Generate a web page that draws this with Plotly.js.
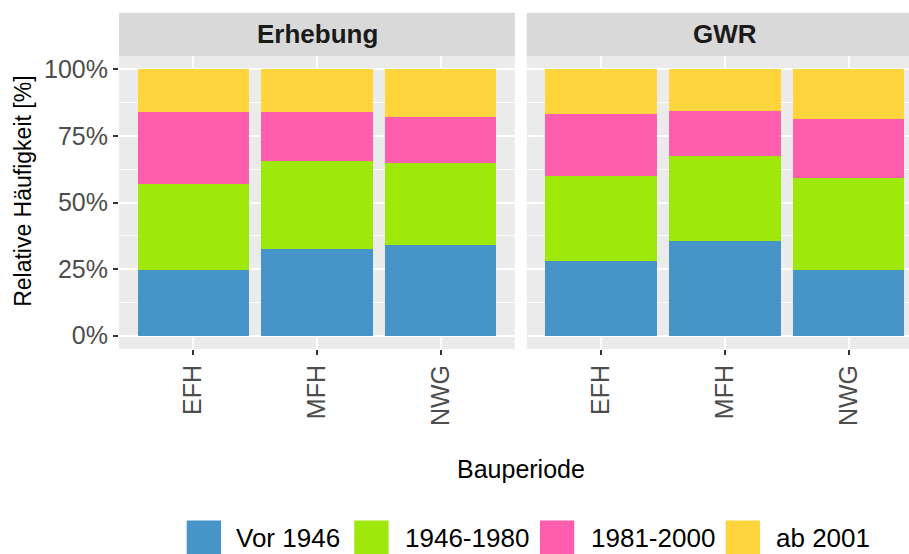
<!DOCTYPE html>
<html>
<head>
<meta charset="utf-8">
<script src="https://cdn.plot.ly/plotly-3.0.1.min.js"></script>
<style>html,body{margin:0;padding:0;background:#fff;}#chart{width:909px;height:554px;}</style>
</head>
<body>
<div id="chart"></div>
<script>
// ---- data ----
const categories = ['EFH', 'MFH', 'NWG'];
const panels = ['Erhebung', 'GWR'];
const seriesNames = ['Vor 1946', '1946-1980', '1981-2000', 'ab 2001'];
const seriesColors = ['#4694C8', '#9EE80C', '#FF5EAE', '#FFD43D'];
const yTickVals = [0, 25, 50, 75, 100];
const yTickText = ['0%', '25%', '50%', '75%', '100%'];
// Erhebung panel (percent)
const erhebungVor1946 = [24.5, 32.6, 34.1];
const erhebung1946_1980 = [32.3, 33.1, 30.6];
const erhebung1981_2000 = [27.0, 18.1, 17.4];
const erhebungAb2001 = [16.2, 16.2, 17.9];
// GWR panel (percent)
const gwrVor1946 = [28.2, 35.7, 24.5];
const gwr1946_1980 = [31.7, 31.8, 34.6];
const gwr1981_2000 = [23.5, 16.8, 22.3];
const gwrAb2001 = [16.6, 15.7, 18.6];

// ---- geometry helpers (pixels -> paper) ----
const W = 909, H = 554;
const L = 119, R = 0, T = 56, B = 554 - 349.3;
const PW = W - L - R, PH = H - T - B;
const px = x => (x - L) / PW;
const py = y => (H - B - y) / PH;

const panelData = [
  [erhebungVor1946, erhebung1946_1980, erhebung1981_2000, erhebungAb2001],
  [gwrVor1946, gwr1946_1980, gwr1981_2000, gwrAb2001]
];

const traces = [];
panelData.forEach((series, p) => {
  series.forEach((vals, i) => {
    traces.push({
      type: 'bar',
      x: categories,
      y: vals,
      name: seriesNames[i],
      legendgroup: seriesNames[i],
      showlegend: false,
      marker: {color: seriesColors[i], line: {width: 0}},
      xaxis: p === 0 ? 'x' : 'x2',
      yaxis: p === 0 ? 'y' : 'y2',
      hovertemplate: panels[p] + ' %{x}: %{y:.1f}%<extra>' + seriesNames[i] + '</extra>'
    });
  });
});

const tickFont = {family: 'Liberation Sans, Arial, sans-serif', size: 25, color: '#4D4D4D'};
const xaxisBase = {
  type: 'category',
  showgrid: true, gridcolor: '#FFFFFF', gridwidth: 2,
  zeroline: false, showline: false,
  ticks: 'outside', ticklen: 5, tickwidth: 2, tickcolor: '#333333',
  tickangle: -90, tickfont: tickFont,
  fixedrange: true
};
const yaxisBase = {
  range: [-5, 105],
  tickvals: yTickVals,
  showgrid: true, gridcolor: '#FFFFFF', gridwidth: 2,
  minor: {dtick: 12.5, tick0: 12.5, showgrid: true, gridcolor: '#FFFFFF', gridwidth: 1, ticks: ''},
  zeroline: false, showline: false,
  fixedrange: true
};

const stripTop = py(12.7), stripBot = 1;
const x1a = px(119), x1b = px(514.9), x2a = px(526.7), x2b = 1;

const shapes = [
  {type: 'rect', xref: 'paper', yref: 'paper', x0: x1a, x1: x1b, y0: stripBot, y1: stripTop, fillcolor: '#D9D9D9', line: {width: 0}, layer: 'below'},
  {type: 'rect', xref: 'paper', yref: 'paper', x0: x2a, x1: x2b, y0: stripBot, y1: stripTop, fillcolor: '#D9D9D9', line: {width: 0}, layer: 'below'}
];

const legendKeyX = [186.7, 354.3, 540, 725.7];
const legendTextX = [234, 403, 589, 774.3];
const textFont = {family: 'Liberation Sans, Arial, sans-serif', color: '#000000'};
const annotations = [
  {text: '<b>' + panels[0] + '</b>', xref: 'paper', yref: 'paper', x: px(317), y: py(34.3), showarrow: false, xanchor: 'center', yanchor: 'middle', font: {family: 'Liberation Sans, Arial, sans-serif', size: 26, color: '#1A1A1A'}},
  {text: '<b>' + panels[1] + '</b>', xref: 'paper', yref: 'paper', x: px(725), y: py(34.3), showarrow: false, xanchor: 'center', yanchor: 'middle', font: {family: 'Liberation Sans, Arial, sans-serif', size: 26, color: '#1A1A1A'}},
  {text: 'Relative Häufigkeit [%]', xref: 'paper', yref: 'paper', x: px(23), y: py(192), showarrow: false, textangle: -90, xanchor: 'center', yanchor: 'middle', font: Object.assign({size: 23}, textFont)},
  {text: 'Bauperiode', xref: 'paper', yref: 'paper', x: px(521), y: py(469), showarrow: false, xanchor: 'center', yanchor: 'middle', font: Object.assign({size: 25}, textFont)}
];
seriesNames.forEach((n, i) => {
  shapes.push({type: 'rect', xref: 'paper', yref: 'paper', x0: px(legendKeyX[i]), x1: px(legendKeyX[i] + 34.3), y0: py(521), y1: py(555.3), fillcolor: seriesColors[i], line: {width: 0}});
  annotations.push({text: n, xref: 'paper', yref: 'paper', x: px(legendTextX[i]), y: py(538.5), showarrow: false, xanchor: 'left', yanchor: 'middle', font: Object.assign({size: 26}, textFont)});
});

const layout = {
  width: W, height: H,
  margin: {l: L, r: R, t: T, b: B, pad: 0},
  paper_bgcolor: '#FFFFFF', plot_bgcolor: '#EBEBEB',
  barmode: 'stack', bargap: 0.1,
  showlegend: false,
  xaxis: Object.assign({}, xaxisBase, {domain: [x1a, x1b], range: [-0.6, 2.6], anchor: 'y'}),
  xaxis2: Object.assign({}, xaxisBase, {domain: [x2a, x2b], range: [-0.6, 2 + (909 - 848.7) / 123.8], anchor: 'y2'}),
  yaxis: Object.assign({}, yaxisBase, {anchor: 'x', ticktext: yTickText, ticks: 'outside', ticklen: 5, tickwidth: 2, tickcolor: '#333333', tickfont: tickFont}),
  yaxis2: Object.assign({}, yaxisBase, {anchor: 'x2', matches: 'y', showticklabels: false, ticks: ''}),
  shapes: shapes,
  annotations: annotations,
  font: {family: 'Liberation Sans, Arial, sans-serif'}
};

Plotly.newPlot('chart', traces, layout, {displayModeBar: false, staticPlot: true});
</script>
</body>
</html>
